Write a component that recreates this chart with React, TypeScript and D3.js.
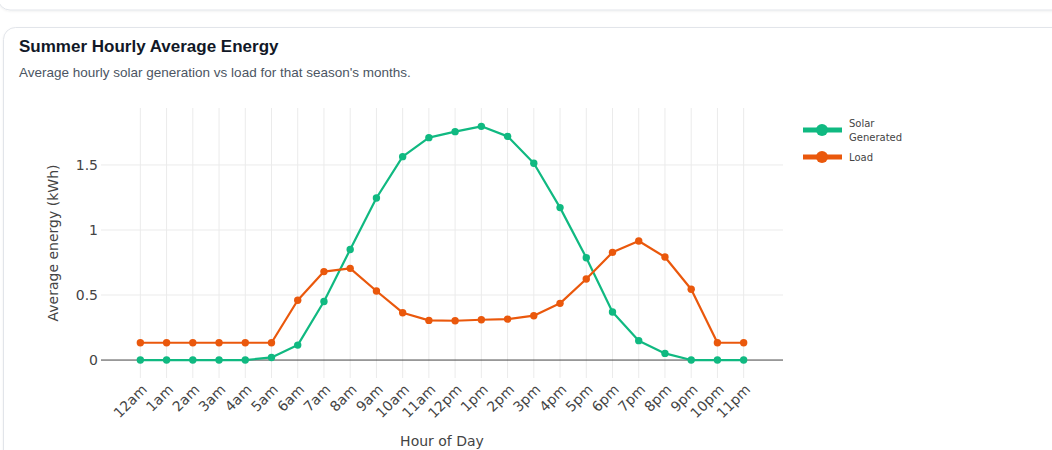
import React, { useEffect, useRef } from 'react';
import * as d3 from 'd3';

const hours = [
  '12am', '1am', '2am', '3am', '4am', '5am', '6am', '7am', '8am', '9am', '10am', '11am',
  '12pm', '1pm', '2pm', '3pm', '4pm', '5pm', '6pm', '7pm', '8pm', '9pm', '10pm', '11pm'
];

const solarGenerated = [
  0, 0, 0, 0, 0, 0.02, 0.115, 0.45, 0.85, 1.246, 1.564, 1.71,
  1.756, 1.797, 1.72, 1.513, 1.172, 0.787, 0.369, 0.149, 0.051, 0, 0, 0
];

const load = [
  0.133, 0.133, 0.133, 0.133, 0.133, 0.133, 0.46, 0.68, 0.705, 0.531, 0.364, 0.305,
  0.302, 0.31, 0.315, 0.341, 0.436, 0.623, 0.828, 0.915, 0.792, 0.544, 0.133, 0.133
];

const yTicks = [0, 0.5, 1, 1.5];

const series = [
  { name: ['Solar', 'Generated'], values: solarGenerated, color: '#10b981' },
  { name: ['Load'], values: load, color: '#ea580c' }
];

const W = 1052;
const H = 450;
const plot = { left: 101, right: 783, top: 108, bottom: 378 };
const tickFont = '"DejaVu Sans", Verdana, sans-serif';

export default function App() {
  const svgRef = useRef<SVGSVGElement>(null);

  useEffect(() => {
    if (!svgRef.current) return;
    const svg = d3.select(svgRef.current);
    svg.selectAll('*').remove();

    // card shadows + cards
    const defs = svg.append('defs');
    const f = defs.append('filter').attr('id', 'sh').attr('x', '-5%').attr('y', '-5%').attr('width', '110%').attr('height', '120%');
    f.append('feDropShadow').attr('dx', 0).attr('dy', 1).attr('stdDeviation', 1.2).attr('flood-color', '#000').attr('flood-opacity', 0.06);

    svg.append('rect')
      .attr('x', -2).attr('y', -40).attr('width', W + 40).attr('height', 50).attr('rx', 12)
      .attr('fill', '#fff').attr('stroke', '#e2e5ea').attr('filter', 'url(#sh)');
    svg.append('rect')
      .attr('x', 3.5).attr('y', 27.5).attr('width', W + 40).attr('height', 500).attr('rx', 12)
      .attr('fill', '#fff').attr('stroke', '#e2e5ea').attr('filter', 'url(#sh)');

    svg.append('text')
      .attr('x', 19).attr('y', 52)
      .style('font-family', '"Liberation Sans", Arial, sans-serif')
      .style('font-size', '17px').style('font-weight', 700).style('fill', '#111827')
      .text('Summer Hourly Average Energy');
    svg.append('text')
      .attr('x', 19).attr('y', 77)
      .style('font-family', '"Liberation Sans", Arial, sans-serif')
      .style('font-size', '13.5px').style('fill', '#4b5563')
      .text("Average hourly solar generation vs load for that season's months.");

    const x = d3.scalePoint<string>().domain(hours).range([plot.left, plot.right]).padding(1.5);
    const y = d3.scaleLinear().domain([-0.138, 1.938]).range([plot.bottom, plot.top]);

    const g = svg.append('g');

    // grid
    g.selectAll('.vgrid').data(hours).enter().append('line')
      .attr('x1', d => x(d)!).attr('x2', d => x(d)!)
      .attr('y1', plot.top).attr('y2', plot.bottom)
      .attr('stroke', '#ebebeb').attr('stroke-width', 1);
    g.selectAll('.hgrid').data(yTicks.filter(t => t !== 0)).enter().append('line')
      .attr('x1', plot.left).attr('x2', plot.right)
      .attr('y1', d => y(d)).attr('y2', d => y(d))
      .attr('stroke', '#ebebeb').attr('stroke-width', 1);
    g.append('line')
      .attr('x1', plot.left).attr('x2', plot.right)
      .attr('y1', y(0)).attr('y2', y(0))
      .attr('stroke', '#444').attr('stroke-width', 1);

    // y ticks
    g.selectAll('.ytick').data(yTicks).enter().append('text')
      .attr('x', plot.left - 3).attr('y', d => y(d)).attr('dy', '0.35em')
      .attr('text-anchor', 'end')
      .style('font-family', tickFont).style('font-size', '14px').style('fill', '#444')
      .text(d => d.toString());

    // x ticks
    g.selectAll('.xtick').data(hours).enter().append('text')
      .attr('transform', d => `translate(${x(d)! + 4},${plot.bottom + 9}) rotate(-45)`)
      .attr('text-anchor', 'end').attr('dy', '0.35em')
      .style('font-family', tickFont).style('font-size', '14px').style('fill', '#444')
      .text(d => d);

    // axis titles
    g.append('text')
      .attr('x', (plot.left + plot.right) / 2).attr('y', 446)
      .attr('text-anchor', 'middle')
      .style('font-family', tickFont).style('font-size', '14px').style('fill', '#444')
      .text('Hour of Day');
    g.append('text')
      .attr('transform', `translate(58,${(plot.top + plot.bottom) / 2}) rotate(-90)`)
      .attr('text-anchor', 'middle')
      .style('font-family', tickFont).style('font-size', '14px').style('fill', '#444')
      .text('Average energy (kWh)');

    // lines + markers
    const line = d3.line<number>().x((_, i) => x(hours[i])!).y(d => y(d));
    series.forEach(s => {
      g.append('path').datum(s.values)
        .attr('d', line).attr('fill', 'none')
        .attr('stroke', s.color).attr('stroke-width', 2.2).attr('stroke-linejoin', 'round');
      g.selectAll(null).data(s.values).enter().append('circle')
        .attr('cx', (_, i) => x(hours[i])!).attr('cy', d => y(d)).attr('r', 3.7)
        .attr('fill', s.color);
    });

    // legend
    const lg = svg.append('g');
    const legendY = [130, 157];
    series.forEach((s, i) => {
      const ly = legendY[i];
      lg.append('line').attr('x1', 803).attr('x2', 842).attr('y1', ly).attr('y2', ly)
        .attr('stroke', s.color).attr('stroke-width', 5);
      lg.append('circle').attr('cx', 822).attr('cy', ly).attr('r', 6).attr('fill', s.color);
      s.name.forEach((n, j) => {
        lg.append('text')
          .attr('x', 849).attr('y', ly - (s.name.length - 1) * 7 + j * 14).attr('dy', '0.35em')
          .style('font-family', tickFont).style('font-size', '10px').style('fill', '#444')
          .text(n);
      });
    });
  }, []);

  return (
    <div style={{ position: 'absolute', left: 0, top: 0, width: W, height: H, background: '#fff' }}>
      <svg ref={svgRef} width={W} height={H} />
    </div>
  );
}
